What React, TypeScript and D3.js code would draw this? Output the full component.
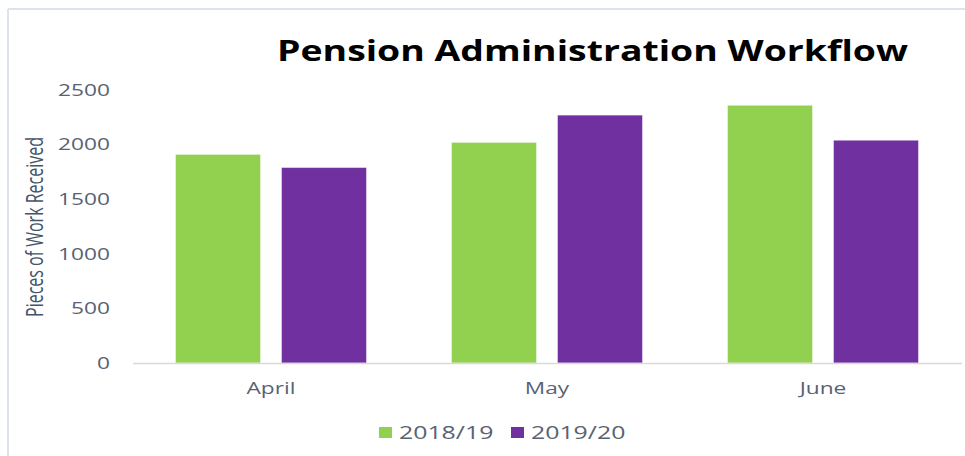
import React from "react";
import * as d3 from "d3";

const months = ["April", "May", "June"];
const seriesNames = ["2018/19", "2019/20"];
const values2018 = [1910, 2020, 2360];
const values2019 = [1790, 2270, 2040];
const yTicks = [0, 500, 1000, 1500, 2000, 2500];
const colors = ["#92D050", "#7030A0"];

const W = 965;
const H = 456;
const SX = 1.42;
const FONT = "'Open Sans', 'DejaVu Sans', sans-serif";

export default function App() {
  const x0 = d3.scaleBand<string>().domain(months).range([133, 961]).paddingInner(0.308).paddingOuter(0.154);
  const x1 = d3.scaleBand<string>().domain(seriesNames).range([0, x0.bandwidth()]).paddingInner(0.198).paddingOuter(0);
  const y = d3.scaleLinear().domain([0, 2500]).range([363, 90]);
  const seriesValues = [values2018, values2019];

  return (
    <svg width={W} height={H} style={{ position: "absolute", left: 0, top: 0, background: "#fff" }}>
      <rect x={0} y={0} width={W} height={H} fill="#fff" />
      {/* frame */}
      <line x1={8} y1={9} x2={W} y2={9} stroke="#dde3ea" strokeWidth={2} />
      <line x1={8} y1={9} x2={8} y2={H} stroke="#dde3ea" strokeWidth={2} />

      {/* title */}
      <text x={277} y={61} fontFamily={FONT} fontWeight={700} fontSize={29} fill="#000"
        textLength={631} lengthAdjust="spacingAndGlyphs">Pension Administration Workflow</text>

      {/* y tick labels */}
      {yTicks.map((t) => (
        <text key={t} transform={`translate(110,${y(t) + 5.8}) scale(${SX},1)`} textAnchor="end"
          fontFamily={FONT} fontSize={16} fill="#586274">{t}</text>
      ))}

      {/* y axis title */}
      <text transform={`translate(43,227) scale(${SX},1) rotate(-90)`} textAnchor="middle"
        fontFamily={FONT} fontSize={16} fill="#44546A">Pieces of Work Received</text>

      {/* bars */}
      {months.map((m, i) => (
        <g key={m} transform={`translate(${x0(m)},0)`}>
          {seriesNames.map((s, j) => (
            <rect key={s} x={x1(s)} y={y(seriesValues[j][i])} width={x1.bandwidth()}
              height={y(0) - y(seriesValues[j][i])} fill={colors[j]} stroke="#ffffff" strokeOpacity={0.45} strokeWidth={1} />
          ))}
        </g>
      ))}

      {/* baseline */}
      <line x1={133} y1={363.5} x2={962} y2={363.5} stroke="#d9d9d9" strokeWidth={1.5} />

      {/* category labels */}
      {months.map((m) => (
        <text key={m} transform={`translate(${(x0(m) as number) + x0.bandwidth() / 2},394) scale(${SX},1)`}
          textAnchor="middle" fontFamily={FONT} fontSize={16} fill="#586274">{m}</text>
      ))}

      {/* legend */}
      {seriesNames.map((s, j) => {
        const lx = j === 0 ? 379 : 511;
        return (
          <g key={s}>
            <rect x={lx} y={427} width={13} height={11} fill={colors[j]} />
            <text transform={`translate(${lx + 20},439) scale(${SX},1)`} fontFamily={FONT} fontSize={17.5} fill="#586274">{s}</text>
          </g>
        );
      })}
    </svg>
  );
}
